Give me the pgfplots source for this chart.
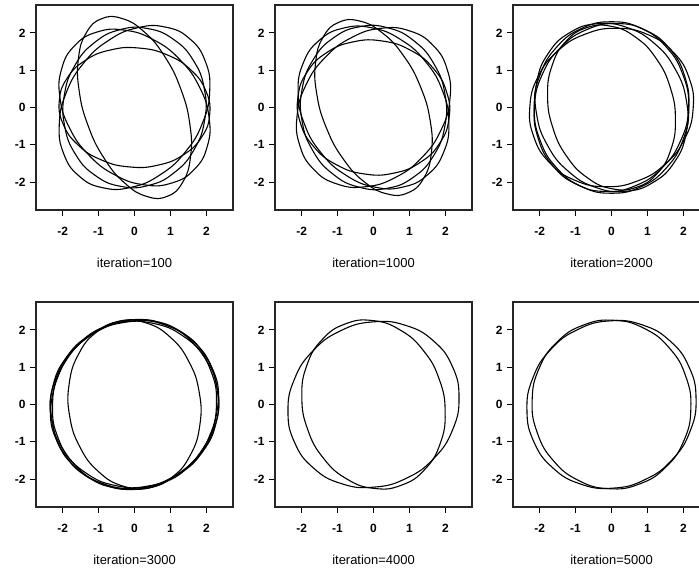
\documentclass[border=0pt]{standalone}
\usepackage{pgfplots}
\pgfplotsset{compat=1.18}
\usepackage{fontspec}
\setmainfont{Liberation Sans}
\pgfplotsset{
  panel/.style={
    scale only axis, width=197bp, height=205bp,
    anchor=north west,
    xmin=-2.74, xmax=2.74, ymin=-2.75, ymax=2.75,
    xtick={-2,-1,0,1,2}, ytick={-2,-1,0,1,2},
    xticklabels={-2,-1,0,1,2}, yticklabels={-2,-1,0,1,2},
    tick pos=left, tick align=outside, major tick length=6bp,
    tick style={line width=1bp, black},
    axis line style={line width=1.2bp, black!85},
    ticklabel style={font=\fontsize{12}{14}\selectfont\bfseries},
    xticklabel style={yshift=-8bp},
    yticklabel style={xshift=-1bp},
    xlabel style={at={(axis description cs:0.5,0)}, anchor=center, yshift=-53bp, font=\fontsize{13}{15}\selectfont},
  },
  ell/.style={black, line width=1.1bp, smooth cycle, tension=0.8, mark=none},
}
\begin{document}
\begin{tikzpicture}
\path[use as bounding box] (0bp,0bp) rectangle (699bp,-569bp);
% panel 1
\begin{axis}[panel, at={(36bp,-5bp)}, xlabel={iteration=100}]
\addplot[ell] coordinates {(-0.914,2.381) (-1.337,2.010) (-1.557,1.334) (-1.540,0.454) (-1.288,-0.495) (-0.840,-1.369) (-0.264,-2.034) (0.352,-2.389) (0.914,-2.381) (1.337,-2.010) (1.557,-1.334) (1.540,-0.454) (1.288,0.495) (0.840,1.369) (0.264,2.034) (-0.352,2.389)};
\addplot[ell] coordinates {(2.092,-0.183) (1.986,0.441) (1.578,0.998) (0.930,1.403) (0.140,1.594) (-0.671,1.543) (-1.380,1.257) (-1.879,0.779) (-2.092,0.183) (-1.986,-0.441) (-1.578,-0.998) (-0.930,-1.403) (-0.140,-1.594) (0.671,-1.543) (1.380,-1.257) (1.879,-0.779)};
\addplot[ell] coordinates {(-1.662,1.662) (-2.023,1.048) (-2.075,0.275) (-1.812,-0.540) (-1.273,-1.273) (-0.540,-1.812) (0.275,-2.075) (1.048,-2.023) (1.662,-1.662) (2.023,-1.048) (2.075,-0.275) (1.812,0.540) (1.273,1.273) (0.540,1.812) (-0.275,2.075) (-1.048,2.023)};
\addplot[ell] coordinates {(1.543,1.838) (0.883,2.153) (0.089,2.140) (-0.719,1.802) (-1.417,1.189) (-1.900,0.395) (-2.093,-0.459) (-1.968,-1.243) (-1.543,-1.838) (-0.883,-2.153) (-0.089,-2.140) (0.719,-1.802) (1.417,-1.189) (1.900,-0.395) (2.093,0.459) (1.968,1.243)};
\addplot[ell] coordinates {(0.373,2.117) (-0.402,2.088) (-1.115,1.740) (-1.659,1.128) (-1.950,0.344) (-1.944,-0.492) (-1.643,-1.254) (-1.091,-1.824) (-0.373,-2.117) (0.402,-2.088) (1.115,-1.740) (1.659,-1.128) (1.950,-0.344) (1.944,0.492) (1.643,1.254) (1.091,1.824)};
\end{axis}
% panel 2
\begin{axis}[panel, at={(275bp,-5bp)}, xlabel={iteration=1000}]
\addplot[ell] coordinates {(-0.969,2.283) (-1.396,1.897) (-1.609,1.222) (-1.578,0.361) (-1.307,-0.555) (-0.837,-1.387) (-0.239,-2.007) (0.395,-2.322) (0.969,-2.283) (1.396,-1.897) (1.609,-1.222) (1.578,-0.361) (1.307,0.555) (0.837,1.387) (0.239,2.007) (-0.395,2.322)};
\addplot[ell] coordinates {(2.099,-0.295) (2.035,0.410) (1.662,1.052) (1.035,1.534) (0.251,1.783) (-0.571,1.760) (-1.307,1.469) (-1.843,0.955) (-2.099,0.295) (-2.035,-0.410) (-1.662,-1.052) (-1.035,-1.534) (-0.251,-1.783) (0.571,-1.760) (1.307,-1.469) (1.843,-0.955)};
\addplot[ell] coordinates {(-1.511,1.800) (-1.953,1.196) (-2.097,0.409) (-1.923,-0.439) (-1.455,-1.221) (-0.766,-1.817) (0.040,-2.136) (0.839,-2.130) (1.511,-1.800) (1.953,-1.196) (2.097,-0.409) (1.923,0.439) (1.455,1.221) (0.766,1.817) (-0.040,2.136) (-0.839,2.130)};
\addplot[ell] coordinates {(1.662,1.662) (1.021,2.050) (0.225,2.126) (-0.606,1.878) (-1.344,1.344) (-1.878,0.606) (-2.126,-0.225) (-2.050,-1.021) (-1.662,-1.662) (-1.021,-2.050) (-0.225,-2.126) (0.606,-1.878) (1.344,-1.344) (1.878,-0.606) (2.126,0.225) (2.050,1.021)};
\addplot[ell] coordinates {(-0.382,2.167) (-1.114,1.868) (-1.677,1.284) (-1.984,0.505) (-1.989,-0.351) (-1.691,-1.154) (-1.136,-1.780) (-0.408,-2.136) (0.382,-2.167) (1.114,-1.868) (1.677,-1.284) (1.984,-0.505) (1.989,0.351) (1.691,1.154) (1.136,1.780) (0.408,2.136)};
\end{axis}
% panel 3
\begin{axis}[panel, at={(513bp,-5bp)}, xlabel={iteration=2000}]
\addplot[ell] coordinates {(-0.695,2.140) (-1.268,1.774) (-1.648,1.138) (-1.778,0.328) (-1.636,-0.531) (-1.246,-1.310) (-0.665,-1.889) (0.016,-2.180) (0.695,-2.140) (1.268,-1.774) (1.648,-1.138) (1.778,-0.328) (1.636,0.531) (1.246,1.310) (0.665,1.889) (-0.016,2.180)};
\addplot[ell] coordinates {(0,2.3) (-0.823,2.125) (-1.520,1.626) (-1.986,0.880) (-2.15,0) (-1.986,-0.880) (-1.520,-1.626) (-0.823,-2.125) (0,-2.3) (0.823,-2.125) (1.520,-1.626) (1.986,-0.880) (2.15,0) (1.986,0.880) (1.520,1.626) (0.823,2.125)};
\addplot[ell] coordinates {(2.161,0.787) (1.722,1.482) (1.020,1.952) (0.164,2.124) (-0.718,1.973) (-1.490,1.522) (-2.036,0.839) (-2.271,0.028) (-2.161,-0.787) (-1.722,-1.482) (-1.020,-1.952) (-0.164,-2.124) (0.718,-1.973) (1.490,-1.522) (2.036,-0.839) (2.271,-0.028)};
\addplot[ell] coordinates {(-1.160,2.009) (-1.751,1.464) (-2.075,0.696) (-2.084,-0.178) (-1.775,-1.025) (-1.196,-1.716) (-0.435,-2.145) (0.392,-2.248) (1.160,-2.009) (1.751,-1.464) (2.075,-0.696) (2.084,0.178) (1.775,1.025) (1.196,1.716) (0.435,2.145) (-0.392,2.248)};
\addplot[ell] coordinates {(0.964,2.066) (0.155,2.252) (-0.677,2.094) (-1.406,1.619) (-1.921,0.896) (-2.144,0.037) (-2.040,-0.827) (-1.626,-1.566) (-0.964,-2.066) (-0.155,-2.252) (0.677,-2.094) (1.406,-1.619) (1.921,-0.896) (2.144,-0.037) (2.040,0.827) (1.626,1.566)};
\end{axis}
% panel 4
\begin{axis}[panel, at={(36bp,-302bp)}, xlabel={iteration=3000}]
\addplot[ell] coordinates {(-0.394,2.235) (-1.054,1.943) (-1.553,1.356) (-1.816,0.562) (-1.802,-0.318) (-1.514,-1.149) (-0.996,-1.805) (-0.326,-2.187) (0.394,-2.235) (1.054,-1.943) (1.553,-1.356) (1.816,-0.562) (1.802,0.318) (1.514,1.149) (0.996,1.805) (0.326,2.187)};
\addplot[ell] coordinates {(2.148,1.002) (1.626,1.696) (0.856,2.131) (-0.045,2.242) (-0.938,2.012) (-1.689,1.475) (-2.182,0.714) (-2.344,-0.156) (-2.148,-1.002) (-1.626,-1.696) (-0.856,-2.131) (0.045,-2.242) (0.938,-2.012) (1.689,-1.475) (2.182,-0.714) (2.344,0.156)};
\addplot[ell] coordinates {(2.304,0.406) (1.981,1.212) (1.357,1.833) (0.526,2.175) (-0.385,2.186) (-1.237,1.864) (-1.901,1.259) (-2.276,0.462) (-2.304,-0.406) (-1.981,-1.212) (-1.357,-1.833) (-0.526,-2.175) (0.385,-2.186) (1.237,-1.864) (1.901,-1.259) (2.276,-0.462)};
\addplot[ell] coordinates {(1.640,1.640) (0.909,2.121) (0.040,2.280) (-0.836,2.091) (-1.584,1.584) (-2.091,0.836) (-2.280,-0.040) (-2.121,-0.909) (-1.640,-1.640) (-0.909,-2.121) (-0.040,-2.280) (0.836,-2.091) (1.584,-1.584) (2.091,-0.836) (2.280,0.040) (2.121,0.909)};
\addplot[ell] coordinates {(1.933,1.354) (1.299,1.947) (0.467,2.244) (-0.436,2.199) (-1.273,1.819) (-1.916,1.162) (-2.267,0.329) (-2.273,-0.555) (-1.933,-1.354) (-1.299,-1.947) (-0.467,-2.244) (0.436,-2.199) (1.273,-1.819) (1.916,-1.162) (2.267,-0.329) (2.273,0.555)};
\end{axis}
% panel 5
\begin{axis}[panel, at={(275bp,-302bp)}, xlabel={iteration=4000}]
\addplot[ell] coordinates {(2.193,1.023) (1.674,1.701) (0.899,2.121) (-0.012,2.217) (-0.921,1.976) (-1.690,1.434) (-2.202,0.674) (-2.379,-0.189) (-2.193,-1.023) (-1.674,-1.701) (-0.899,-2.121) (0.012,-2.217) (0.921,-1.976) (1.690,-1.434) (2.202,-0.674) (2.379,0.189)};
\addplot[ell] coordinates {(-0.787,2.161) (-1.428,1.741) (-1.852,1.056) (-1.994,0.211) (-1.832,-0.667) (-1.391,-1.443) (-0.739,-2.000) (0.026,-2.252) (0.787,-2.161) (1.428,-1.741) (1.852,-1.056) (1.994,-0.211) (1.832,0.667) (1.391,1.443) (0.739,2.000) (-0.026,2.252)};
\end{axis}
% panel 6
\begin{axis}[panel, at={(513bp,-302bp)}, xlabel={iteration=5000}]
\addplot[ell] coordinates {(2.157,1.006) (1.634,1.699) (0.862,2.134) (-0.041,2.244) (-0.938,2.012) (-1.692,1.474) (-2.188,0.711) (-2.352,-0.159) (-2.157,-1.006) (-1.634,-1.699) (-0.862,-2.134) (0.041,-2.244) (0.938,-2.012) (1.692,-1.474) (2.188,-0.711) (2.352,0.159)};
\addplot[ell] coordinates {(-0.776,2.133) (-1.508,1.683) (-2.010,0.977) (-2.207,0.122) (-2.067,-0.752) (-1.613,-1.511) (-0.913,-2.040) (-0.074,-2.259) (0.776,-2.133) (1.508,-1.683) (2.010,-0.977) (2.207,-0.122) (2.067,0.752) (1.613,1.511) (0.913,2.040) (0.074,2.259)};
\end{axis}
\end{tikzpicture}
\end{document}
